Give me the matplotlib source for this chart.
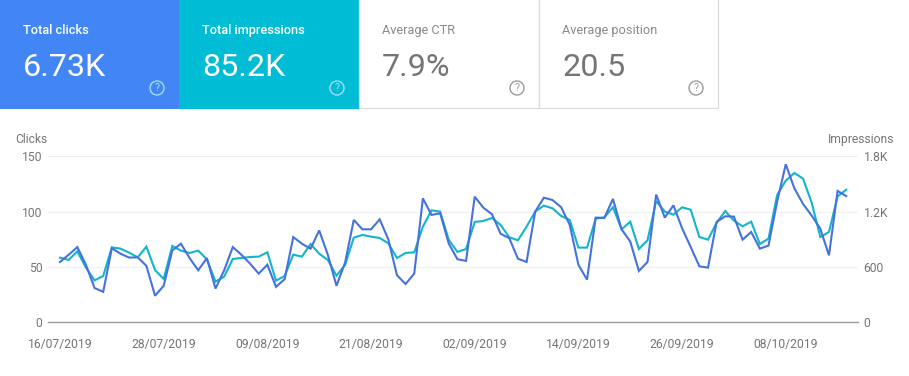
import matplotlib
matplotlib.use("Agg")
import matplotlib.pyplot as plt
import matplotlib.dates as mdates
from matplotlib.patches import Rectangle, Circle
import pandas as pd

plt.rcParams['font.family'] = ['Roboto', 'DejaVu Sans']

# card texts
card_titles = ["Total clicks", "Total impressions", "Average CTR", "Average position"]
card_values = ["6.73K", "85.2K", "7.9%", "20.5"]

start_date = "2019-07-16"
clicks = [54.5, 61, 68, 52, 31, 27.5, 67, 62, 58.5, 58.7, 51, 24, 33, 65, 71, 58, 47, 58, 30.5, 47,
          68, 61, 53, 44, 52, 32, 39, 77, 71, 66.5, 83, 61, 33, 54, 92.5, 84, 84, 93, 75, 42.5,
          34.6, 44, 112, 97, 98.5, 71, 57, 55.5, 113.5, 103.6, 97.6, 80, 76, 57.5, 54.5, 100,
          112.6, 110.5, 104, 88, 52, 38.5, 94.6, 94.3, 111.5, 84, 73, 46.4, 54.5, 115.4, 94.6,
          105.7, 85, 68, 50.6, 49.4, 90.7, 95.8, 95.5, 74.7, 81.6, 66.6, 69.3, 109, 142.8, 121,
          107, 96.4, 84.6, 60.5, 118.7, 114]
impressions = [701, 676, 770, 593, 455, 502, 813, 799, 755, 705, 820, 567, 470, 828, 777, 752, 777,
               683, 441, 495, 687, 697, 708, 712, 759, 452, 502, 734, 712, 849, 744, 676, 506, 622,
               918, 947, 929, 914, 857, 697, 752, 759, 1037, 1214, 1200, 893, 763, 795, 1088, 1099,
               1131, 1055, 922, 889, 1037, 1200, 1265, 1236, 1153, 1110, 810, 810, 1124, 1138, 1247,
               1008, 1091, 795, 889, 1315, 1200, 1167, 1247, 1221, 925, 896, 1080, 1207, 1102, 1041,
               1091, 849, 907, 1380, 1536, 1619, 1558, 1297, 925, 979, 1366, 1438]
clicks_ticks = [0, 50, 100, 150]
impr_ticks = [0, 600, 1200, 1800]
impr_labels = ["0", "600", "1.2K", "1.8K"]
date_ticks = ["2019-07-16", "2019-07-28", "2019-08-09", "2019-08-21",
              "2019-09-02", "2019-09-14", "2019-09-26", "2019-10-08"]

W, H = 909, 376
grey = "#757575"
fig = plt.figure(figsize=(W / 100, H / 100), dpi=100)

# overlay in pixel coordinates for the cards
bg = fig.add_axes([0, 0, 1, 1])
bg.set_xlim(0, W)
bg.set_ylim(H, 0)
bg.axis("off")

card_x = [0, 179, 359, 539, 718]
card_fill = ["#4285f4", "#00bcd4", "white", "white"]
for i in range(4):
    x0, x1 = card_x[i], card_x[i + 1]
    if i < 2:
        bg.add_patch(Rectangle((x0, 0), x1 - x0, 108.5, fc=card_fill[i], ec="none"))
        title_c, value_c, help_c = "white", "white", "#a6dcf5"
    else:
        bg.add_patch(Rectangle((x0, -2), x1 - x0, 110, fc="white", ec="#dcdcdc", lw=0.9))
        title_c, value_c, help_c = "#8a8a8a", grey, "#9a9a9a"
    tx = x0 + 23
    bg.text(tx, 30.5, card_titles[i], color=title_c, fontsize=9.2, va="center", ha="left",
            fontweight="medium" if i < 2 else "normal")
    bg.text(tx, 67.5, card_values[i], color=value_c, fontsize=23.3, va="center", ha="left")
    bg.add_patch(Circle((x1 - 22, 88), 7, fc="none", ec=help_c, lw=1.0))
    bg.text(x1 - 22, 88.3, "?", color=help_c, fontsize=7.5, va="center", ha="center")

dates = pd.date_range(start_date, periods=len(clicks))

# main plot area, pixels 48..858 and 156.3..322.3
ax = fig.add_axes([48 / W, 1 - 322.3 / H, 810 / W, 166 / H])
ax2 = ax.twinx()
ax.set_zorder(ax2.get_zorder() + 1)
ax.patch.set_visible(False)
ax2.patch.set_visible(False)
ax.set_xlim(mdates.date2num(dates[0]) - 12 / 8.64, mdates.date2num(dates[0]) + 798 / 8.64)
ax.set_ylim(0, 150)
ax2.set_ylim(0, 1800)

ax2.plot(dates, impressions, color="#12b5cb", lw=1.5, solid_joinstyle="miter")
ax.plot(dates, clicks, color="#4572dc", lw=1.5, solid_joinstyle="miter")

ax.set_yticks(clicks_ticks)
ax2.set_yticks(impr_ticks, impr_labels)
ax2.grid(axis="y", color="#f0f0f0", lw=0.8)
ax2.set_axisbelow(True)
ax.set_xticks(pd.to_datetime(date_ticks))
ax.xaxis.set_major_formatter(mdates.DateFormatter("%d/%m/%Y"))

for a in (ax, ax2):
    for s in a.spines.values():
        s.set_visible(False)
    a.spines["bottom"].set_visible(True)
    a.spines["bottom"].set_color("#9e9e9e")
    a.spines["bottom"].set_linewidth(0.9)
ax.tick_params(axis="x", length=0, pad=11.5, labelsize=8.7, labelcolor=grey)
ax.tick_params(axis="y", length=0, pad=4, labelsize=8.7, labelcolor=grey)
ax2.tick_params(axis="y", length=0, pad=4, labelsize=8.7, labelcolor=grey)

bg.text(15, 139.5, "Clicks", color=grey, fontsize=8.7, va="center", ha="left")
bg.text(894, 139.5, "Impressions", color=grey, fontsize=8.7, va="center", ha="right")

fig.savefig("out.png", dpi=100)
